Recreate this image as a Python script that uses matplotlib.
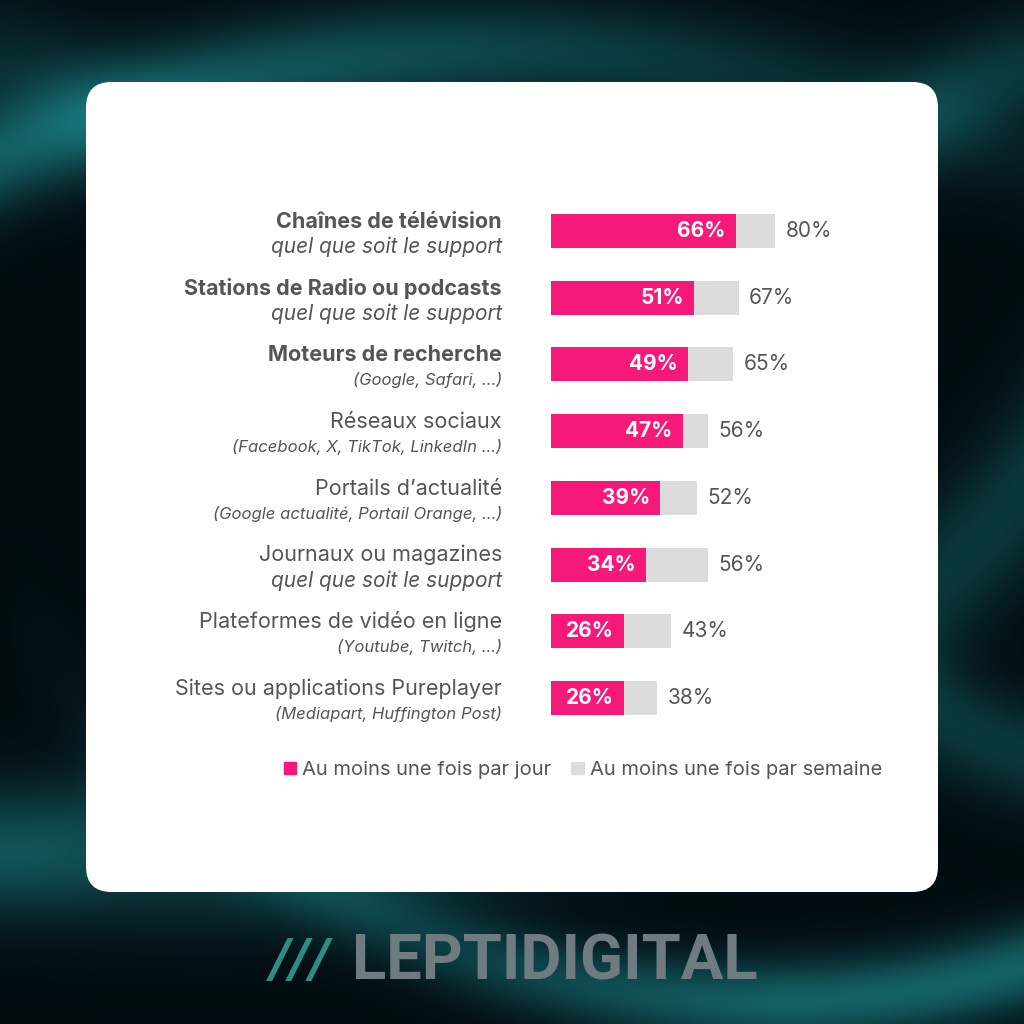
import numpy as np
import matplotlib.pyplot as plt
from matplotlib.patches import FancyBboxPatch, Patch

plt.rcParams['font.family'] = ['Inter', 'DejaVu Sans']

# données
titres = ["Chaînes de télévision", "Stations de Radio ou podcasts", "Moteurs de recherche",
          "Réseaux sociaux", "Portails d’actualité", "Journaux ou magazines",
          "Plateformes de vidéo en ligne", "Sites ou applications Pureplayer"]
sous_titres = ["quel que soit le support", "quel que soit le support", "(Google, Safari, ...)",
               "(Facebook, X, TikTok, LinkedIn ...)", "(Google actualité, Portail Orange, ...)",
               "quel que soit le support", "(Youtube, Twitch, ...)", "(Mediapart, Huffington Post)"]
gras = [True, True, True, False, False, False, False, False]
par_jour = [66, 51, 49, 47, 39, 34, 26, 26]
par_semaine = [80, 67, 65, 56, 52, 56, 43, 38]

ROSE = "#F7197A"
GRIS = "#DCDCDC"
TEXTE = "#555555"

fig = plt.figure(figsize=(10.24, 10.24), dpi=100)

# fond sombre avec halos turquoise
bg = fig.add_axes([0, 0, 1, 1], zorder=-1)
n = 400
yy, xx = np.mgrid[0:1:n * 1j, 0:1:n * 1j]
def arc(cx, cy, r, w):
    d = np.sqrt((xx - cx) ** 2 + (yy - cy) ** 2) - r
    return np.exp(-(d / w) ** 2)
glow = (0.6 * arc(0.75, 0.95, 0.93, 0.04) * np.clip(xx * 1.3, 0, 1)
        + 0.3 * arc(0.2, 1.2, 1.05, 0.06)
        + 0.55 * arc(0.5, -0.35, 1.3, 0.05) * np.clip(1.2 - xx, 0, 1)
        + 0.3 * arc(1.1, 0.6, 0.35, 0.05)
        + 0.2 * arc(-0.1, 0.55, 0.4, 0.06))
glow = np.clip(glow, 0, 1)
base = np.array([0.01, 0.05, 0.07])
teal = np.array([0.12, 0.60, 0.62])
img = base[None, None, :] * (1 - glow[..., None]) + teal[None, None, :] * glow[..., None]
bg.imshow(img, extent=[0, 1, 0, 1], aspect='auto', origin='lower')
bg.set_xlim(0, 1)
bg.set_ylim(0, 1)
bg.set_axis_off()

# panneau blanc
W = 1024
panel = FancyBboxPatch((86 / W, 1 - 892 / W), (938 - 86) / W, (892 - 82) / W,
                       boxstyle="round,pad=0,rounding_size=0.025",
                       transform=bg.transAxes, facecolor="white", edgecolor="none")
bg.add_patch(panel)

# logo
bg.text(270 / W, 1 - 962 / W, "///", color="#2E8C83", fontsize=40, fontweight='bold',
        style='italic', va='center', ha='left', family='Roboto', transform=bg.transAxes)
bg.text(352 / W, 1 - 962 / W, "LEPTIDIGITAL", color="#6E7B80", fontsize=45.5,
        fontweight='bold', va='center', ha='left', family='Roboto', transform=bg.transAxes)

# graphique
ax = fig.add_axes([551 / W, 1 - 731.4 / W, 280 / W, 533.8 / W])
ax.set_xlim(0, 100)
ax.set_ylim(7.5, -0.5)
ax.set_axis_off()
y = np.arange(len(titres))
ax.barh(y, par_semaine, height=0.51, color=GRIS)
ax.barh(y, par_jour, height=0.51, color=ROSE)

for i in range(len(titres)):
    ax.text(par_jour[i] - 3.6, i, f"{par_jour[i]}%", ha='right', va='center',
            color='white', fontsize=15, fontweight='bold')
    ax.text(par_semaine[i] + 3.8, i, f"{par_semaine[i]}%", ha='left', va='center',
            color=TEXTE, fontsize=15)
    ax.text(-17.5, i - 0.14, titres[i], ha='right', va='center', color=TEXTE,
            fontsize=15.5, fontweight='bold' if gras[i] else 'normal')
    grand = sous_titres[i].startswith("quel")
    ax.text(-17.5, i + 0.24, sous_titres[i], ha='right', va='center', color=TEXTE,
            fontsize=15 if grand else 12, style='italic')

handles = [Patch(color=ROSE, label="Au moins une fois par jour"),
           Patch(color=GRIS, label="Au moins une fois par semaine")]
fig.legend(handles=handles, loc='center', bbox_to_anchor=(583 / W, 1 - 770 / W), ncol=2,
           frameon=False, fontsize=14.5, labelcolor=TEXTE, handlelength=0.6, handleheight=0.6,
           handletextpad=0.3, columnspacing=1.0)

fig.savefig("out.png", dpi=100)
